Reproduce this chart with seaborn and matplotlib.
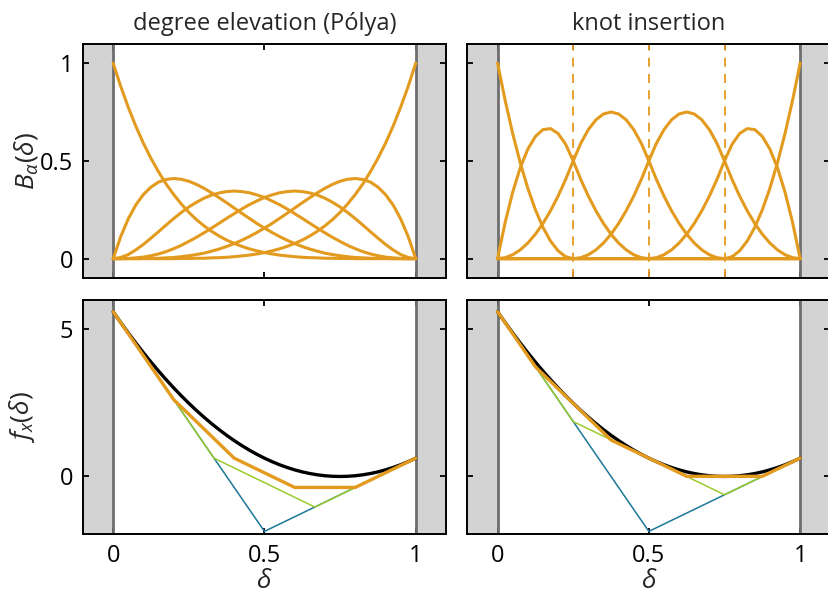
import seaborn as sns
from matplotlib import pyplot as plt

#--------------------------Data------------------------------------------------
# sample points in delta (step 0.025)
delta = [0.000, 0.025, 0.050, 0.075, 0.100, 0.125, 0.150, 0.175, 0.200, 0.225,
         0.250, 0.275, 0.300, 0.325, 0.350, 0.375, 0.400, 0.425, 0.450, 0.475,
         0.500, 0.525, 0.550, 0.575, 0.600, 0.625, 0.650, 0.675, 0.700, 0.725,
         0.750, 0.775, 0.800, 0.825, 0.850, 0.875, 0.900, 0.925, 0.950, 0.975,
         1.000]

# degree elevation: Bernstein basis values (degree 5)
bern0 = [1.000, 0.881, 0.774, 0.677, 0.590, 0.513, 0.444, 0.382, 0.328, 0.280,
         0.237, 0.200, 0.168, 0.140, 0.116, 0.095, 0.078, 0.063, 0.050, 0.040,
         0.031, 0.024, 0.018, 0.014, 0.010, 0.007, 0.005, 0.004, 0.002, 0.002,
         0.001, 0.001, 0.000, 0.000, 0.000, 0.000, 0.000, 0.000, 0.000, 0.000,
         0.000]
bern1 = [0.000, 0.113, 0.204, 0.275, 0.328, 0.366, 0.392, 0.405, 0.410, 0.406,
         0.396, 0.380, 0.360, 0.337, 0.312, 0.286, 0.259, 0.232, 0.206, 0.180,
         0.156, 0.134, 0.113, 0.094, 0.077, 0.062, 0.049, 0.038, 0.028, 0.021,
         0.015, 0.010, 0.006, 0.004, 0.002, 0.001, 0.001, 0.000, 0.000, 0.000,
         0.000]
bern2 = [0.000, 0.006, 0.021, 0.045, 0.073, 0.105, 0.138, 0.172, 0.205, 0.236,
         0.264, 0.288, 0.309, 0.325, 0.336, 0.343, 0.346, 0.343, 0.337, 0.326,
         0.313, 0.295, 0.276, 0.254, 0.230, 0.206, 0.181, 0.156, 0.132, 0.109,
         0.088, 0.068, 0.051, 0.036, 0.024, 0.015, 0.008, 0.004, 0.001, 0.000,
         0.000]
bern3 = [0.000, 0.000, 0.001, 0.004, 0.008, 0.015, 0.024, 0.036, 0.051, 0.068,
         0.088, 0.109, 0.132, 0.156, 0.181, 0.206, 0.230, 0.254, 0.276, 0.295,
         0.313, 0.326, 0.337, 0.343, 0.346, 0.343, 0.336, 0.325, 0.309, 0.288,
         0.264, 0.236, 0.205, 0.172, 0.138, 0.105, 0.073, 0.045, 0.021, 0.006,
         0.000]
bern4 = [0.000, 0.000, 0.000, 0.000, 0.001, 0.001, 0.002, 0.004, 0.006, 0.010,
         0.015, 0.021, 0.028, 0.038, 0.049, 0.062, 0.077, 0.094, 0.113, 0.134,
         0.156, 0.180, 0.206, 0.232, 0.259, 0.286, 0.312, 0.337, 0.360, 0.380,
         0.396, 0.406, 0.410, 0.405, 0.392, 0.366, 0.328, 0.275, 0.204, 0.113,
         0.000]
bern5 = [0.000, 0.000, 0.000, 0.000, 0.000, 0.000, 0.000, 0.000, 0.000, 0.001,
         0.001, 0.002, 0.002, 0.004, 0.005, 0.007, 0.010, 0.014, 0.018, 0.024,
         0.031, 0.040, 0.050, 0.063, 0.078, 0.095, 0.116, 0.140, 0.168, 0.200,
         0.237, 0.280, 0.328, 0.382, 0.444, 0.513, 0.590, 0.677, 0.774, 0.881,
         1.000]

# knot insertion: quadratic B-spline basis, interior knots
knots = [0.25, 0.5, 0.75]
bspl0 = [1.000, 0.810, 0.640, 0.490, 0.360, 0.250, 0.160, 0.090, 0.040, 0.010,
         0.000, 0.000, 0.000, 0.000, 0.000, 0.000, 0.000, 0.000, 0.000, 0.000,
         0.000, 0.000, 0.000, 0.000, 0.000, 0.000, 0.000, 0.000, 0.000, 0.000,
         0.000, 0.000, 0.000, 0.000, 0.000, 0.000, 0.000, 0.000, 0.000, 0.000,
         0.000]
bspl1 = [0.000, 0.185, 0.340, 0.465, 0.560, 0.625, 0.660, 0.665, 0.640, 0.585,
         0.500, 0.405, 0.320, 0.245, 0.180, 0.125, 0.080, 0.045, 0.020, 0.005,
         0.000, 0.000, 0.000, 0.000, 0.000, 0.000, 0.000, 0.000, 0.000, 0.000,
         0.000, 0.000, 0.000, 0.000, 0.000, 0.000, 0.000, 0.000, 0.000, 0.000,
         0.000]
bspl2 = [0.000, 0.005, 0.020, 0.045, 0.080, 0.125, 0.180, 0.245, 0.320, 0.405,
         0.500, 0.590, 0.660, 0.710, 0.740, 0.750, 0.740, 0.710, 0.660, 0.590,
         0.500, 0.405, 0.320, 0.245, 0.180, 0.125, 0.080, 0.045, 0.020, 0.005,
         0.000, 0.000, 0.000, 0.000, 0.000, 0.000, 0.000, 0.000, 0.000, 0.000,
         0.000]
bspl3 = [0.000, 0.000, 0.000, 0.000, 0.000, 0.000, 0.000, 0.000, 0.000, 0.000,
         0.000, 0.005, 0.020, 0.045, 0.080, 0.125, 0.180, 0.245, 0.320, 0.405,
         0.500, 0.590, 0.660, 0.710, 0.740, 0.750, 0.740, 0.710, 0.660, 0.590,
         0.500, 0.405, 0.320, 0.245, 0.180, 0.125, 0.080, 0.045, 0.020, 0.005,
         0.000]
bspl4 = [0.000, 0.000, 0.000, 0.000, 0.000, 0.000, 0.000, 0.000, 0.000, 0.000,
         0.000, 0.000, 0.000, 0.000, 0.000, 0.000, 0.000, 0.000, 0.000, 0.000,
         0.000, 0.005, 0.020, 0.045, 0.080, 0.125, 0.180, 0.245, 0.320, 0.405,
         0.500, 0.585, 0.640, 0.665, 0.660, 0.625, 0.560, 0.465, 0.340, 0.185,
         0.000]
bspl5 = [0.000, 0.000, 0.000, 0.000, 0.000, 0.000, 0.000, 0.000, 0.000, 0.000,
         0.000, 0.000, 0.000, 0.000, 0.000, 0.000, 0.000, 0.000, 0.000, 0.000,
         0.000, 0.000, 0.000, 0.000, 0.000, 0.000, 0.000, 0.000, 0.000, 0.000,
         0.000, 0.010, 0.040, 0.090, 0.160, 0.250, 0.360, 0.490, 0.640, 0.810,
         1.000]

# the function f_x(delta)
f_vals = [5.600, 5.231, 4.875, 4.531, 4.200, 3.881, 3.575, 3.281, 3.000, 2.731,
          2.475, 2.231, 2.000, 1.781, 1.575, 1.381, 1.200, 1.031, 0.875, 0.731,
          0.600, 0.481, 0.375, 0.281, 0.200, 0.131, 0.075, 0.031, 0.000, -0.019,
          -0.025, -0.019, 0.000, 0.031, 0.075, 0.131, 0.200, 0.281, 0.375, 0.481,
          0.600]

# control polygons
ctrl2_x = [0.0, 0.5, 1.0]
ctrl2_y = [5.6, -1.9, 0.6]
elev3_x = [0.0, 1/3, 2/3, 1.0]
elev3_y = [5.6, 0.6, -1.07, 0.6]
elev5_x = [0.0, 0.2, 0.4, 0.6, 0.8, 1.0]
elev5_y = [5.6, 2.6, 0.6, -0.4, -0.4, 0.6]
ins1_x = [0.0, 0.25, 0.75, 1.0]
ins1_y = [5.6, 1.85, -0.65, 0.6]
ins3_x = [0.0, 0.125, 0.375, 0.625, 0.875, 1.0]
ins3_y = [5.6, 3.72, 1.22, -0.02, -0.02, 0.6]

titles = ['degree elevation (Pólya)', 'knot insertion']

#--------------------------Style-----------------------------------------------
ORANGE = '#E39B1F'
BLUE = '#1C7898'
GREEN = '#9BCB2D'
SHADE = '#D3D3D3'

sns.set_theme(style='ticks')
plt.rcParams['font.family'] = ['Open Sans', 'DejaVu Sans']
plt.rcParams['mathtext.fontset'] = 'custom'
plt.rcParams['mathtext.it'] = 'Open Sans:italic'
plt.rcParams['mathtext.rm'] = 'Open Sans'

fig = plt.figure(figsize=(8.29, 5.97), dpi=100)
W = 0.438
axes = [[fig.add_axes([0.100, 0.534, W, 0.393]), fig.add_axes([0.5637, 0.534, W, 0.393])],
        [fig.add_axes([0.100, 0.105, W, 0.3925]), fig.add_axes([0.5637, 0.105, W, 0.3925])]]


def frame(ax, ylim):
    ax.set_xlim(-0.1, 1.1)
    ax.set_ylim(*ylim)
    ax.axvspan(-0.1, 0, color=SHADE, lw=0, zorder=0)
    ax.axvspan(1, 1.1, color=SHADE, lw=0, zorder=0)
    ax.axvline(0, color='#6E6E6E', lw=2, zorder=1)
    ax.axvline(1, color='#6E6E6E', lw=2, zorder=1)
    for s in ax.spines.values():
        s.set_visible(True)
        s.set_color('black')
        s.set_linewidth(1.4)
        s.set_zorder(5)
    ax.tick_params(direction='in', top=True, right=True, length=4, width=1.3,
                   labelsize=17, colors='black', pad=7)


#--------------------------Top row: basis functions---------------------------
bases = [[bern0, bern1, bern2, bern3, bern4, bern5],
         [bspl0, bspl1, bspl2, bspl3, bspl4, bspl5]]
for col, basis in enumerate(bases):
    ax = axes[0][col]
    frame(ax, (-0.1, 1.1))
    if col == 1:
        for k in knots:
            ax.axvline(k, color=ORANGE, lw=1.3, ls=(0, (5, 4)), zorder=2)
    for b in basis:
        sns.lineplot(x=delta, y=b, ax=ax, color=ORANGE, lw=2.2, zorder=3)
    ax.set_yticks([0, 0.5, 1])
    ax.set_yticklabels(['0', '0.5', '1'] if col == 0 else [])
    ax.set_xticks([0, 0.5, 1] if col == 0 else [0, 0.25, 0.5, 0.75, 1])
    ax.set_xticklabels([])
    ax.set_title(titles[col], fontsize=17, pad=10)
axes[0][0].set_ylabel(r'$B_\alpha(\delta)$', fontsize=19, labelpad=0)

#--------------------------Bottom row: function + control polygons------------
poly = [[(ctrl2_x, ctrl2_y, BLUE), (elev3_x, elev3_y, GREEN)],
        [(ctrl2_x, ctrl2_y, BLUE), (ins1_x, ins1_y, GREEN)]]
fine = [(elev5_x, elev5_y), (ins3_x, ins3_y)]
for col in range(2):
    ax = axes[1][col]
    frame(ax, (-2, 6))
    for px, py, c in poly[col]:
        sns.lineplot(x=px, y=py, ax=ax, color=c, lw=1.1, zorder=3)
    sns.lineplot(x=delta, y=f_vals, ax=ax, color='black', lw=2.4, zorder=4)
    sns.lineplot(x=fine[col][0], y=fine[col][1], ax=ax, color=ORANGE, lw=2.4, zorder=4)
    ax.set_yticks([0, 5])
    ax.set_yticklabels(['0', '5'] if col == 0 else [])
    ax.set_xticks([0, 0.5, 1])
    ax.set_xticklabels(['0', '0.5', '1'])
    ax.set_xlabel(r'$\delta$', fontsize=19, labelpad=1)
axes[1][0].set_ylabel(r'$f_x(\delta)$', fontsize=19, labelpad=16)

fig.savefig('out.png', dpi=100)
